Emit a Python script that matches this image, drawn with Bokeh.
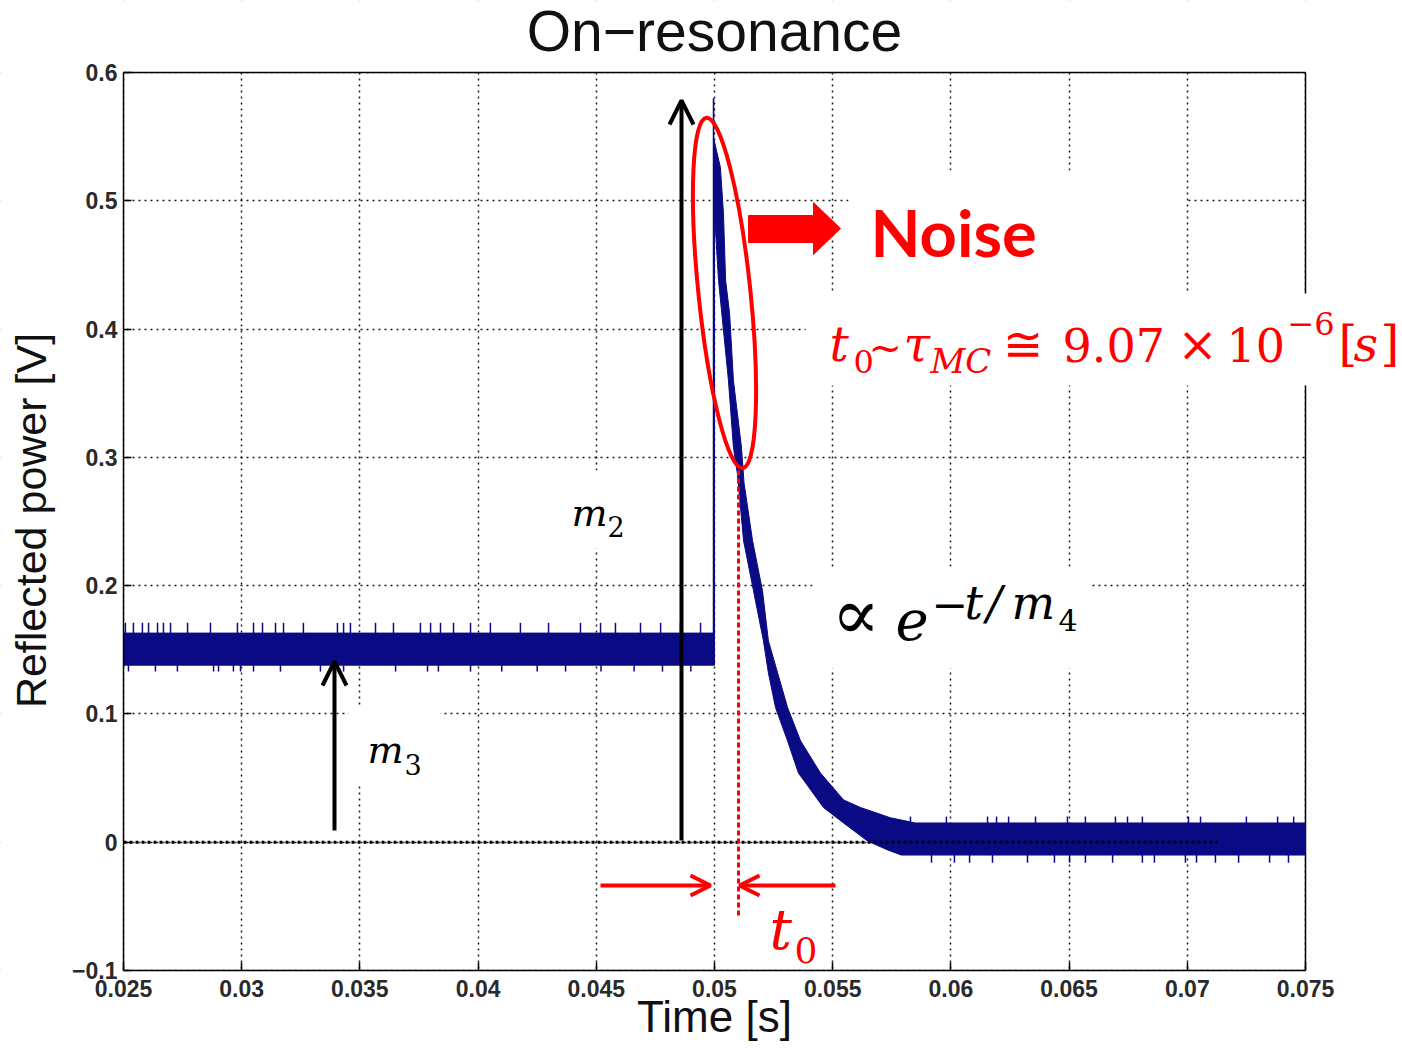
import math
from bokeh.plotting import figure
from bokeh.models import FixedTicker, Label, Arrow, OpenHead, BoxAnnotation, Range1d
from bokeh.embed import file_html
from bokeh.resources import INLINE

# ---------------- data ----------------
x_ticks = [0.025, 0.03, 0.035, 0.04, 0.045, 0.05, 0.055, 0.06, 0.065, 0.07, 0.075]
x_tick_labels = ["0.025", "0.03", "0.035", "0.04", "0.045", "0.05", "0.055", "0.06", "0.065", "0.07", "0.075"]
y_ticks = [-0.1, 0.0, 0.1, 0.2, 0.3, 0.4, 0.5, 0.6]
y_tick_labels = ["\u22120.1", "0", "0.1", "0.2", "0.3", "0.4", "0.5", "0.6"]

t_start, t_end = 0.025, 0.075
v_min, v_max = -0.1, 0.6
step_t = 0.04996          # time of the pulse edge
peak_v = 0.58             # top of the thin spike at the edge
base_hi, base_lo = 0.163, 0.138     # noise band before the edge
tail_hi, tail_lo = 0.015, -0.010    # noise band after the decay

decay_upper_t = [0.04996, 0.05025, 0.05038, 0.05047, 0.05064, 0.05080, 0.05097, 0.05114, 0.05125,
                 0.05161, 0.05203, 0.05228, 0.05267, 0.05309, 0.05364, 0.05448, 0.05546, 0.05618,
                 0.05745, 0.05850]
decay_upper_v = [0.549, 0.526, 0.490, 0.438, 0.412, 0.360, 0.334, 0.308, 0.280,
                 0.235, 0.196, 0.157, 0.132, 0.105, 0.079, 0.054, 0.033, 0.027,
                 0.019, 0.015]
decay_lower_t = [0.05000, 0.05017, 0.05059, 0.05080, 0.05097, 0.05123, 0.05165, 0.05207, 0.05228,
                 0.05258, 0.05309, 0.05355, 0.05461, 0.05546, 0.05647, 0.05732, 0.05790]
decay_lower_v = [0.490, 0.438, 0.360, 0.308, 0.287, 0.235, 0.196, 0.157, 0.132,
                 0.105, 0.079, 0.054, 0.027, 0.015, 0.001, -0.006, -0.010]

base_spike_up_t = [0.02508, 0.02542, 0.02580, 0.02606, 0.02644, 0.02669, 0.02699, 0.02771, 0.02868,
                   0.02982, 0.03050, 0.03088, 0.03143, 0.03177, 0.03261, 0.03405, 0.03431, 0.03460,
                   0.03566, 0.03642, 0.03756, 0.03799, 0.03841, 0.03896, 0.03968, 0.04052, 0.04179,
                   0.04298, 0.04433, 0.04518, 0.04581, 0.04687, 0.04772, 0.04856, 0.04941]
base_spike_up_v = 0.171
base_spike_dn_t = [0.02521, 0.02635, 0.02728, 0.02881, 0.02902, 0.02965, 0.02995, 0.03050, 0.03164,
                   0.03333, 0.03431, 0.03651, 0.03786, 0.03832, 0.03968, 0.04100, 0.04250, 0.04370,
                   0.04520, 0.04660, 0.04780, 0.04900]
base_spike_dn_v = 0.133
tail_spike_up_t = [0.05829, 0.05981, 0.06155, 0.06193, 0.06244, 0.06358, 0.06493, 0.06569, 0.06696,
                   0.06747, 0.06810, 0.07005, 0.07056, 0.07250, 0.07382, 0.07450]
tail_spike_up_v = 0.020
tail_spike_dn_t = [0.05918, 0.06015, 0.06079, 0.06176, 0.06324, 0.06438, 0.06502, 0.06569, 0.06684,
                   0.06810, 0.06861, 0.06992, 0.07039, 0.07119, 0.07217, 0.07348, 0.07428]
tail_spike_dn_v = -0.016
zero_line_end = 0.0713


# helpers converting page pixel positions of annotations to data coordinates
def X(px):
    return 0.025 + (px - 123) * 0.05 / 1182


def Y(py):
    return 0.6 - (py - 72) * 0.7 / 898


W, H = 1400, 1046
# ---------------- figure ----------------
# the frame covers the whole canvas; the library's axes sit at fixed data locations
x_lo, x_hi = X(0), X(W)
y_lo, y_hi = Y(H), Y(0)
p = figure(width=W, height=H, x_range=Range1d(x_lo, x_hi), y_range=Range1d(y_lo, y_hi),
           output_backend="svg", toolbar_location=None, title=None,
           min_border_left=0, min_border_right=0, min_border_top=0, min_border_bottom=0)
p.background_fill_color = "white"
p.border_fill_color = "white"
p.outline_line_color = None

p.xaxis.fixed_location = v_min
p.yaxis.fixed_location = t_start
p.xaxis.ticker = FixedTicker(ticks=x_ticks)
p.yaxis.ticker = FixedTicker(ticks=y_ticks)
p.xaxis.bounds = (t_start, t_end)
p.yaxis.bounds = (v_min, v_max)
p.xaxis.major_label_overrides = {t: s for t, s in zip(x_ticks, x_tick_labels)}
p.yaxis.major_label_overrides = {t: s for t, s in zip(y_ticks, y_tick_labels)}
for ax in (p.xaxis, p.yaxis):
    ax.major_tick_in = 8
    ax.major_tick_out = 0
    ax.minor_tick_line_color = None
    ax.axis_line_color = "black"
    ax.axis_line_width = 1.5
    ax.major_tick_line_color = "black"
    ax.major_tick_line_width = 1.5
    ax.major_label_text_font = "Liberation Sans"
    ax.major_label_text_font_size = "23px"
    ax.major_label_text_font_style = "bold"
    ax.major_label_text_color = "#2a2a2a"
p.xaxis.major_label_standoff = 9
p.yaxis.major_label_standoff = 6

p.grid.grid_line_color = "black"
p.grid.grid_line_dash = "2 4"
p.grid.grid_line_width = 1.5
p.grid.grid_line_alpha = 0.9

# blank out the grid outside the axes box and draw the box's top and right edges
pad = 0.01
p.quad(left=[x_lo - pad, t_end + 0.00002, x_lo - pad, x_lo - pad],
       right=[t_start - 0.00002, x_hi + pad, x_hi + pad, x_hi + pad],
       bottom=[y_lo - pad, y_lo - pad, v_max + 0.0003, y_lo - pad],
       top=[y_hi + pad, y_hi + pad, y_hi + pad, v_min - 0.0003],
       fill_color="white", line_color=None)
p.line([t_start, t_end], [v_max, v_max], line_color="black", line_width=1.5)
p.line([t_end, t_end], [v_min, v_max], line_color="black", line_width=1.5)

# ---------------- signal band ----------------
band_x = [t_start, step_t] + decay_upper_t + [t_end, t_end] + decay_lower_t[::-1] + [decay_lower_t[0], t_start]
band_y = [base_hi, base_hi] + decay_upper_v + [tail_hi, tail_lo] + decay_lower_v[::-1] + [base_lo, base_lo]
navy = "#0a0a85"
p.patch(band_x, band_y, fill_color=navy, line_color=navy, line_width=1)
p.segment(x0=[step_t], y0=[base_hi], x1=[step_t], y1=[peak_v], line_color=navy, line_width=1.6)

p.segment(x0=base_spike_up_t, y0=[base_hi] * len(base_spike_up_t), x1=base_spike_up_t,
          y1=[base_spike_up_v] * len(base_spike_up_t), line_color=navy, line_width=1.5)
p.segment(x0=base_spike_dn_t, y0=[base_lo] * len(base_spike_dn_t), x1=base_spike_dn_t,
          y1=[base_spike_dn_v] * len(base_spike_dn_t), line_color=navy, line_width=1.5)
p.segment(x0=tail_spike_up_t, y0=[tail_hi] * len(tail_spike_up_t), x1=tail_spike_up_t,
          y1=[tail_spike_up_v] * len(tail_spike_up_t), line_color=navy, line_width=1.5)
p.segment(x0=tail_spike_dn_t, y0=[tail_lo] * len(tail_spike_dn_t), x1=tail_spike_dn_t,
          y1=[tail_spike_dn_v] * len(tail_spike_dn_t), line_color=navy, line_width=1.5)

# zero reference line
p.line([t_start, zero_line_end], [0, 0], line_color="black", line_width=3, line_dash="3 3")

# ---------------- annotations ----------------
# red ellipse around the noisy peak
p.ellipse(x=[X(724)], y=[Y(292.5)], width=[52], height=[353], width_units="screen",
          height_units="screen", angle=0.103, fill_color=None, line_color="red", line_width=4)

# red block arrow
arrow_px = [748, 813, 813, 840, 813, 813, 748]
arrow_py = [215, 215, 202, 228, 254, 242, 242]
p.patch([X(v) for v in arrow_px], [Y(v) for v in arrow_py], fill_color="red", line_color="red", line_width=1)

# red dotted line marking t0
p.line([X(738), X(738)], [Y(470), Y(915)], line_color="red", line_width=3, line_dash="5 3")

# white boxes behind annotation texts
for l, r, t, b in [(848, 1185, 170, 293), (805, 1400, 293, 385), (812, 1090, 568, 668),
                   (560, 640, 470, 548), (348, 440, 707, 785)]:
    p.add_layout(BoxAnnotation(left=X(l), right=X(r), top=Y(t), bottom=Y(b), fill_color="white",
                               fill_alpha=1.0, line_color=None, level="annotation"))

# black arrows
p.add_layout(Arrow(end=OpenHead(size=24, line_width=4, line_color="black"), x_start=X(681), y_start=Y(840),
                   x_end=X(681), y_end=Y(100), line_width=4, line_color="black"))
p.add_layout(Arrow(end=OpenHead(size=24, line_width=4, line_color="black"), x_start=X(334), y_start=Y(830),
                   x_end=X(334), y_end=Y(661), line_width=4, line_color="black"))
# red arrows
p.add_layout(Arrow(end=OpenHead(size=20, line_width=4, line_color="red"), x_start=X(600), y_start=Y(885),
                   x_end=X(710), y_end=Y(885), line_width=4, line_color="red"))
p.add_layout(Arrow(end=OpenHead(size=20, line_width=4, line_color="red"), x_start=X(835), y_start=Y(885),
                   x_end=X(739), y_end=Y(885), line_width=4, line_color="red"))

BASE_SHIFT = 0.34   # rendered text sits this many font-sizes below the requested baseline


def lab(px, py, text, size, color="black", font="DejaVu Serif", style="normal", align="left"):
    p.add_layout(Label(x=X(px), y=Y(py - BASE_SHIFT * size), text=text, text_font_size=f"{size}px",
                       text_color=color, text_font=font, text_font_style=style, text_align=align,
                       text_baseline="alphabetic"))


# title and axis titles
lab(714, 50, "On\u2212resonance", 57, color="#111111", font="Liberation Sans", align="center")
lab(714, 1031, "Time [s]", 44, color="#111111", font="Liberation Sans", align="center")
p.add_layout(Label(x=X(45 - BASE_SHIFT * 43), y=Y(520), text="Reflected power [V]", text_font_size="43px",
                   text_color="#111111", text_font="Liberation Sans", text_align="center",
                   text_baseline="alphabetic", angle=math.pi / 2))

# Noise
lab(870, 254, "Noise", 65, color="red", font="Lato", style="bold")

# t0 ~ tau_MC formula
red = "red"
lab(829, 360, "t", 48, red, style="italic")
lab(853, 372, "0", 32, red)
lab(868, 360, "~", 40, red)
lab(903, 360, "\u03c4", 48, red, style="italic")
lab(930, 372, "MC", 34, red, style="italic")
lab(1002, 360, "\u2245", 48, red)
lab(1062, 360, "9.07", 46, red)
lab(1177, 360, "\u00d7", 48, red)
lab(1226, 360, "10", 46, red)
lab(1287, 334, "\u22126", 32, red)
lab(1338, 360, "[", 48, red)
lab(1353, 360, "s", 48, red, style="italic")
lab(1380, 360, "]", 48, red)

# proportional to exp(-t/m4)
lab(831, 638, "\u221d", 72)
lab(895, 638, "e", 56, style="italic")
lab(931, 618, "\u2212", 44)
lab(964, 618, "t", 46, style="italic")
lab(986, 618, "/", 46, style="italic")
lab(1011, 618, "m", 46, style="italic")
lab(1058, 630, "4", 30)

# m2, m3
lab(571, 525, "m", 38, style="italic")
lab(607, 535, "2", 27)
lab(367, 762, "m", 38, style="italic")
lab(404, 773, "3", 27)

# t0 under the arrows
lab(769, 948, "t", 56, red, style="italic")
lab(794, 962, "0", 36, red)

open("out.html", "w").write(file_html(p, INLINE))
